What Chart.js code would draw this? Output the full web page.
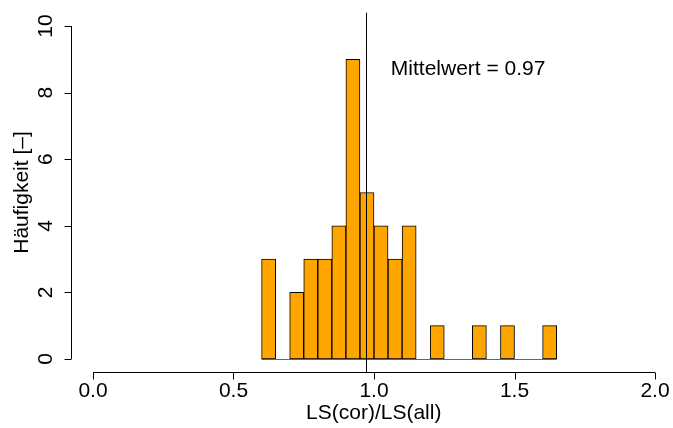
<!DOCTYPE html>
<html>
<head>
<meta charset="utf-8">
<script src="https://cdn.jsdelivr.net/npm/chart.js@4"></script>
<style>
  html, body { margin: 0; padding: 0; background: #fff; }
  canvas { display: block; }
</style>
</head>
<body>
<canvas id="histLS" width="673" height="428"></canvas>
<script>
// lower edge of each class, width 0.05
const binStarts = [0.60, 0.65, 0.70, 0.75, 0.80, 0.85, 0.90, 0.95, 1.00, 1.05,
                   1.10, 1.15, 1.20, 1.25, 1.30, 1.35, 1.40, 1.45, 1.50, 1.55, 1.60];
const binWidth = 0.05;
const counts = [3, 0, 2, 3, 3, 4, 9, 5, 4, 3, 4, 0, 1, 0, 0, 1, 0, 1, 0, 0, 1];

const xTicks = [0.0, 0.5, 1.0, 1.5, 2.0];
const yTicks = [0, 2, 4, 6, 8, 10];
const meanValue = 0.97;
const meanLabel = 'Mittelwert = 0.97';
const xTitle = 'LS(cor)/LS(all)';
const yTitle = 'Häufigkeit [–]';

const FONT = '21px "Liberation Sans", Arial, Helvetica, sans-serif';

const histData = binStarts.map((s, i) => ({ x: s + binWidth / 2, y: counts[i] }));

// R-style axes, mean line and label drawn on top of the scales
const baseAxes = {
    id: 'baseAxes',
    beforeDraw(chart) {
        const ctx = chart.ctx;
        ctx.save();
        ctx.fillStyle = '#fff';
        ctx.fillRect(0, 0, chart.width, chart.height);
        ctx.restore();
    },
    afterDatasetsDraw(chart) {
        const { ctx, chartArea, scales: { x, y } } = chart;
        ctx.save();

        // zero line under the empty classes
        const y0 = Math.round(y.getPixelForValue(0)) + 0.5;
        ctx.strokeStyle = '#666';
        ctx.lineWidth = 1;
        ctx.beginPath();
        ctx.moveTo(x.getPixelForValue(binStarts[0]), y0);
        ctx.lineTo(x.getPixelForValue(binStarts[binStarts.length - 1] + binWidth), y0);
        ctx.stroke();

        ctx.strokeStyle = '#000';
        ctx.fillStyle = '#000';
        ctx.font = FONT;

        // x axis
        const ax = Math.round(chartArea.bottom) + 0.5;
        ctx.beginPath();
        ctx.moveTo(x.getPixelForValue(xTicks[0]), ax);
        ctx.lineTo(x.getPixelForValue(xTicks[xTicks.length - 1]), ax);
        xTicks.forEach(t => {
            const px = Math.round(x.getPixelForValue(t)) + 0.5;
            ctx.moveTo(px, ax);
            ctx.lineTo(px, ax + 7);
        });
        ctx.stroke();
        ctx.textAlign = 'center';
        ctx.textBaseline = 'middle';
        xTicks.forEach(t => {
            ctx.fillText(t.toFixed(1), x.getPixelForValue(t), 391);
        });
        ctx.fillText(xTitle, (chartArea.left + 677) / 2, 413);

        // y axis
        const ay = Math.round(chartArea.left) + 0.5;
        ctx.beginPath();
        ctx.moveTo(ay, y.getPixelForValue(yTicks[0]));
        ctx.lineTo(ay, y.getPixelForValue(yTicks[yTicks.length - 1]));
        yTicks.forEach(t => {
            const py = Math.round(y.getPixelForValue(t)) + 0.5;
            ctx.moveTo(ay, py);
            ctx.lineTo(ay - 7, py);
        });
        ctx.stroke();
        yTicks.forEach(t => {
            ctx.save();
            ctx.translate(46, y.getPixelForValue(t));
            ctx.rotate(-Math.PI / 2);
            ctx.fillText(String(t), 0, 0);
            ctx.restore();
        });
        ctx.save();
        ctx.translate(22, (chartArea.top + chartArea.bottom) / 2);
        ctx.rotate(-Math.PI / 2);
        ctx.fillText(yTitle, 0, 0);
        ctx.restore();

        // mean line
        const mx = Math.round(x.getPixelForValue(meanValue)) + 0.5;
        ctx.beginPath();
        ctx.moveTo(mx, chartArea.top);
        ctx.lineTo(mx, chartArea.bottom);
        ctx.stroke();
        ctx.fillText(meanLabel, x.getPixelForValue(1.335), y.getPixelForValue(8.7));

        ctx.restore();
    }
};

new Chart(document.getElementById('histLS'), {
    type: 'bar',
    data: {
        datasets: [{
            data: histData,
            backgroundColor: '#FFA500',
            borderColor: '#000',
            borderWidth: 1,
            borderSkipped: false,
            barPercentage: 1,
            categoryPercentage: 1
        }]
    },
    options: {
        responsive: false,
        animation: false,
        layout: { padding: { left: 70.5, right: 0, top: 12.7, bottom: 55.7 } },
        plugins: { legend: { display: false }, tooltip: { enabled: false } },
        scales: {
            x: { type: 'linear', offset: false, min: -0.08, max: 2.064, display: false },
            y: { min: -0.4, max: 10.4, display: false }
        }
    },
    plugins: [baseAxes]
});
</script>
</body>
</html>
